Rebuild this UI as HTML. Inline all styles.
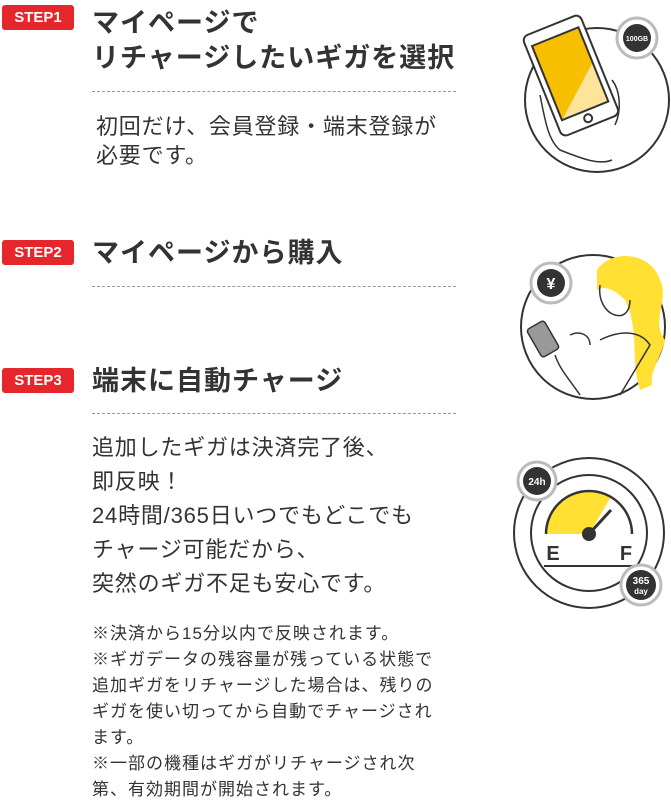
<!DOCTYPE html>
<html><head><meta charset="utf-8"><style>
body{margin:0;width:671px;height:802px;background:#fff;position:relative;overflow:hidden;font-family:"Liberation Sans","Noto Sans CJK JP",sans-serif;color:#333}
.b{position:absolute;left:2px;width:72px;height:25px;background:#e5262a;color:#fff;border-radius:3px;font:bold 15px/25px "Liberation Sans",sans-serif;text-align:center}
.t{position:absolute;left:92px;font-weight:bold;font-size:27px;letter-spacing:1px;white-space:nowrap;line-height:35px;color:#333}
.d{position:absolute;left:92px;width:364px;border-top:1px dashed #999}
.p{position:absolute;left:92px;font-size:22px;letter-spacing:0.8px;line-height:34px;white-space:nowrap}
.n{position:absolute;left:92px;font-size:17px;letter-spacing:1px;line-height:26px;white-space:nowrap}
svg{position:absolute}
</style></head><body>
<div class="b" style="top:5px">STEP1</div>
<div class="t" style="top:6px">マイページで<br>リチャージしたいギガを選択</div>
<div class="d" style="top:91px"></div>
<div class="p" style="top:112px;left:96px;line-height:29px">初回だけ、会員登録・端末登録が<br>必要です。</div>

<div class="b" style="top:240px">STEP2</div>
<div class="t" style="top:236px">マイページから購入</div>
<div class="d" style="top:286px"></div>

<div class="b" style="top:368px">STEP3</div>
<div class="t" style="top:364px">端末に自動チャージ</div>
<div class="d" style="top:413px"></div>
<div class="p" style="top:431px">追加したギガは決済完了後、<br>即反映！<br>24時間/365日いつでもどこでも<br>チャージ可能だから、<br>突然のギガ不足も安心です。</div>
<div class="n" style="top:621px">※決済から15分以内で反映されます。<br>※ギガデータの残容量が残っている状態で<br>追加ギガをリチャージした場合は、残りの<br>ギガを使い切ってから自動でチャージされ<br>ます。<br>※一部の機種はギガがリチャージされ次<br>第、有効期間が開始されます。</div>

<svg width="671" height="802" style="left:0;top:0" fill="none" stroke="#333" stroke-width="2">
<!-- step1 -->
<circle cx="597" cy="100" r="72"/>
<g transform="rotate(-22 575 75)">
<rect x="540" y="20" width="62" height="108" rx="6" fill="#fff"/>
<polygon points="546,32 596,32 596,112 546,112" fill="#f7bf00" stroke="none"/>
<polygon points="596,70 596,112 546,112" fill="#fde49a" stroke="none"/>
<rect x="546" y="32" width="50" height="80"/>
<circle cx="571" cy="120" r="4"/>
</g>
<path d="M540 95 C 545 120, 548 140, 560 150 C 585 160, 600 165, 612 160" stroke-width="1.5"/>
<path d="M612 80 C 620 90, 622 110, 615 125" stroke-width="1.5"/>
<circle cx="637" cy="38" r="20" fill="#fff" stroke="#bbb" stroke-width="3"/>
<circle cx="637" cy="38" r="14" fill="#333" stroke="none"/>
<text x="637" y="41" font-size="7" fill="#fff" stroke="none" text-anchor="middle" font-family="Liberation Sans" font-weight="bold">100GB</text>
<!-- step2 -->
<circle cx="593" cy="327" r="72"/>
<path d="M597 270 C 610 250, 650 250, 660 280 C 670 300, 650 320, 665 340 C 660 360, 650 370, 652 385 L 640 390 C 630 360, 640 330, 625 300 C 615 290, 605 285, 597 290 Z" fill="#ffe033" stroke="none"/>
<path d="M600 285 C 598 300, 605 312, 615 315 C 625 318, 630 310, 630 300" stroke-width="1.5"/>
<path d="M600 340 C 620 330, 640 330, 650 345 L 620 395" stroke-width="1.5"/>
<rect x="533" y="323" width="20" height="32" rx="3" fill="#999" stroke="#333" stroke-width="1.5" transform="rotate(-30 543 339)"/>
<path d="M555 355 C 560 370, 570 380, 580 395 M570 335 C 580 330, 590 335, 590 345" stroke-width="1.5"/>
<circle cx="551" cy="283" r="20" fill="#fff" stroke="#bbb" stroke-width="3"/>
<circle cx="551" cy="283" r="14" fill="#333" stroke="none"/>
<text x="551" y="289" font-size="16" fill="#fff" stroke="none" text-anchor="middle" font-weight="bold" font-family="Liberation Sans">¥</text>
<!-- step3 -->
<circle cx="589" cy="533" r="75"/>
<circle cx="589" cy="533" r="58"/>
<path d="M546 534 A43 43 0 0 1 611 497 L589 534 Z" fill="#ffe033" stroke="none"/>
<path d="M546 534 A43 43 0 0 1 632 534" stroke-width="2.5"/>
<line x1="589" y1="534" x2="611" y2="510" stroke-width="3"/>
<circle cx="589" cy="534" r="6" fill="#333"/>
<line x1="544" y1="566" x2="634" y2="566"/>
<text x="553" y="560" font-size="20" font-weight="bold" fill="#333" stroke="none" text-anchor="middle" font-family="Liberation Sans">E</text>
<text x="626" y="560" font-size="20" font-weight="bold" fill="#333" stroke="none" text-anchor="middle" font-family="Liberation Sans">F</text>
<circle cx="537" cy="481" r="19" fill="#fff" stroke="#bbb" stroke-width="3"/>
<circle cx="537" cy="481" r="14" fill="#333" stroke="none"/>
<text x="537" y="485" font-size="10" font-weight="bold" fill="#fff" stroke="none" text-anchor="middle" font-family="Liberation Sans">24h</text>
<circle cx="641" cy="585" r="20" fill="#fff" stroke="#bbb" stroke-width="3"/>
<circle cx="641" cy="585" r="15" fill="#333" stroke="none"/>
<text x="641" y="584" font-size="10" font-weight="bold" fill="#fff" stroke="none" text-anchor="middle" font-family="Liberation Sans">365</text>
<text x="641" y="594" font-size="8" font-weight="bold" fill="#fff" stroke="none" text-anchor="middle" font-family="Liberation Sans">day</text>
</svg>
</body></html>
